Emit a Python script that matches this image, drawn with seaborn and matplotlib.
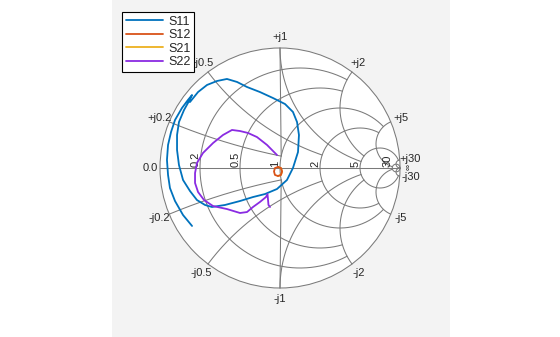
import numpy as np
import pandas as pd
import matplotlib
matplotlib.use("Agg")
import matplotlib.pyplot as plt
import seaborn as sns
from matplotlib.patches import Circle
from matplotlib.lines import Line2D

# ---------------- data (reflection coefficients) -------------
s11_re = [-0.733, -0.808, -0.875, -0.917, -0.933, -0.942, -0.933, -0.908, -0.875, -0.817,
          -0.767, -0.733, -0.758, -0.800, -0.842, -0.858, -0.858, -0.842, -0.808, -0.750,
          -0.692, -0.625, -0.567, -0.458, -0.333, -0.225, -0.125, -0.025, 0.058, 0.108,
          0.150, 0.158, 0.142, 0.108, 0.042, -0.058, -0.167, -0.275, -0.358, -0.442,
          -0.525, -0.608, -0.683, -0.750]
s11_im = [-0.483, -0.392, -0.275, -0.167, -0.058, 0.067, 0.192, 0.300, 0.400, 0.500,
          0.567, 0.608, 0.558, 0.483, 0.383, 0.275, 0.150, 0.025, -0.100, -0.192,
          -0.267, -0.308, -0.325, -0.308, -0.275, -0.242, -0.217, -0.175, -0.100, 0.000,
          0.133, 0.275, 0.383, 0.467, 0.533, 0.583, 0.633, 0.675, 0.717, 0.742,
          0.725, 0.692, 0.633, 0.550]

s12_re = [-0.017, 0.008, 0.017, 0.008, -0.017, -0.042, -0.050, -0.042, -0.017]
s12_im = [0.008, 0.000, -0.029, -0.058, -0.067, -0.058, -0.029, 0.000, 0.008]

s21_re = [-0.017, 0.008, 0.017, 0.008, -0.017]
s21_im = [0.008, 0.000, -0.029, -0.058, -0.067]

s22_re = [-0.025, -0.108, -0.192, -0.267, -0.333, -0.400, -0.475, -0.558, -0.642, -0.692,
          -0.708, -0.708, -0.683, -0.633, -0.558, -0.442, -0.333, -0.275, -0.225, -0.167,
          -0.117, -0.104, -0.096, -0.083]
s22_im = [0.108, 0.192, 0.258, 0.292, 0.308, 0.317, 0.275, 0.208, 0.125, 0.042,
          -0.042, -0.125, -0.200, -0.267, -0.317, -0.342, -0.375, -0.367, -0.325, -0.283,
          -0.242, -0.217, -0.308, -0.325]

series_names = ["S11", "S12", "S21", "S22"]
series_colors = ["#0072BD", "#D95319", "#EDB120", "#8A2BE2"]

# Smith grid: value, limit of its resistance circle (|x|) and of its reactance arcs (r)
grid_values = [30, 5, 2, 1, 0.5, 0.2]
r_circle_limits = [np.inf, 30, 5, 5, 2, 2]
x_arc_limits = [np.inf, 30, 5, 5, 2, 1]
r_labels = ["30", "5", "2", "1", "0.5", "0.2"]
x_labels = ["30", "5", "2", "1", "0.5", "0.2"]

# ---------------- figure ----------------
sns.set_style("white")
plt.rcParams["font.family"] = ["Liberation Sans", "DejaVu Sans"]

W, H = 560, 337
fig = plt.figure(figsize=(W / 100, H / 100), dpi=100)
fig.patch.set_facecolor("white")

bg = fig.add_axes([112 / W, 0, (450 - 112) / W, 1])
bg.set_facecolor("#f3f3f3")
bg.set_xticks([]); bg.set_yticks([])
for s in bg.spines.values():
    s.set_visible(False)
bg.set_zorder(0)

ax = fig.add_axes([0, 0, 1, 1])
ax.set_zorder(1)
ax.patch.set_alpha(0)
cx, cy, R = 280, 168, 120
ax.set_xlim((0 - cx) / R, (W - cx) / R)
ax.set_ylim((cy - H) / R, cy / R)
ax.set_aspect("equal")

grid_kw = dict(color="#7a7a7a", lw=0.75, zorder=2)

ax.add_patch(Circle((0, 0), 1, facecolor="white", edgecolor="#7a7a7a", lw=0.75, zorder=1))


def gam(z):
    return (z - 1) / (z + 1)


def tan_range(lim, n=1500, symmetric=True):
    a = np.arctan(lim) if np.isfinite(lim) else np.pi / 2 * 0.99999
    lo = -a if symmetric else 0.0
    return np.tan(np.linspace(lo, a, n))


for v, rl, xl in zip(grid_values, r_circle_limits, x_arc_limits):
    g = gam(v + 1j * tan_range(rl))
    ax.plot(g.real, g.imag, **grid_kw)
    rs = tan_range(xl, symmetric=False)
    for sgn in (1, -1):
        g = gam(rs + 1j * sgn * v)
        ax.plot(g.real, g.imag, **grid_kw)

# straight segments from +-j1 on the rim toward the centre
end = gam(1 + 0.2j)
for sgn in (1, -1):
    ax.plot([0, end.real], [sgn * 1, sgn * end.imag], **grid_kw)

ax.plot([-1, 1], [0, 0], **grid_kw)

lab_fs = 8
for v, lab in zip(grid_values, x_labels):
    g = gam(1j * v)
    ang = np.angle(g)
    rr = 1.09
    ax.text(rr * np.cos(ang), rr * np.sin(ang), "+j" + lab, ha="center", va="center",
            fontsize=lab_fs, color="#262626", zorder=3)
    ax.text(rr * np.cos(ang), -rr * np.sin(ang), "-j" + lab, ha="center", va="center",
            fontsize=lab_fs, color="#262626", zorder=3)
for v, lab in zip(grid_values, r_labels):
    g = gam(v)
    ax.text(g.real - 0.012, 0.012, lab, rotation=90, rotation_mode="anchor",
            ha="left", va="baseline", fontsize=lab_fs, color="#262626", zorder=3)
ax.text(1.075, 0.01, "\u221e", rotation=90, ha="center", va="center",
        fontsize=6, color="#262626", zorder=3)
ax.text(-1.02, 0, "0.0", ha="right", va="center", fontsize=lab_fs, color="#262626", zorder=3)

# ---------------- data curves ----------------
frames = []
for name, re, im in [("S11", s11_re, s11_im), ("S12", s12_re, s12_im),
                     ("S21", s21_re, s21_im), ("S22", s22_re, s22_im)]:
    frames.append(pd.DataFrame({"re": re, "im": im, "param": name}))
df = pd.concat(frames, ignore_index=True)

zorders = {"S11": 5, "S12": 6, "S21": 5.5, "S22": 7}
for name, col in zip(series_names, series_colors):
    sub = df[df["param"] == name]
    sns.lineplot(data=sub, x="re", y="im", sort=False, estimator=None, color=col,
                 lw=1.3, ax=ax, zorder=zorders[name], legend=False)
ax.set_xlim((0 - cx) / R, (W - cx) / R)
ax.set_ylim((cy - H) / R, cy / R)
ax.axis("off")

handles = [Line2D([], [], color=c, lw=1.3) for c in series_colors]
leg = ax.legend(handles, series_names, loc="upper left",
                bbox_to_anchor=(122 / W, 1 - 12 / H), bbox_transform=fig.transFigure,
                borderaxespad=0, fancybox=False, framealpha=1, edgecolor="black",
                fontsize=9, handlelength=3.0, handletextpad=0.4, labelspacing=0.12,
                borderpad=0.3)
leg.get_frame().set_linewidth(0.8)
leg.set_zorder(10)

fig.savefig("out.png", dpi=100, facecolor=fig.get_facecolor())
